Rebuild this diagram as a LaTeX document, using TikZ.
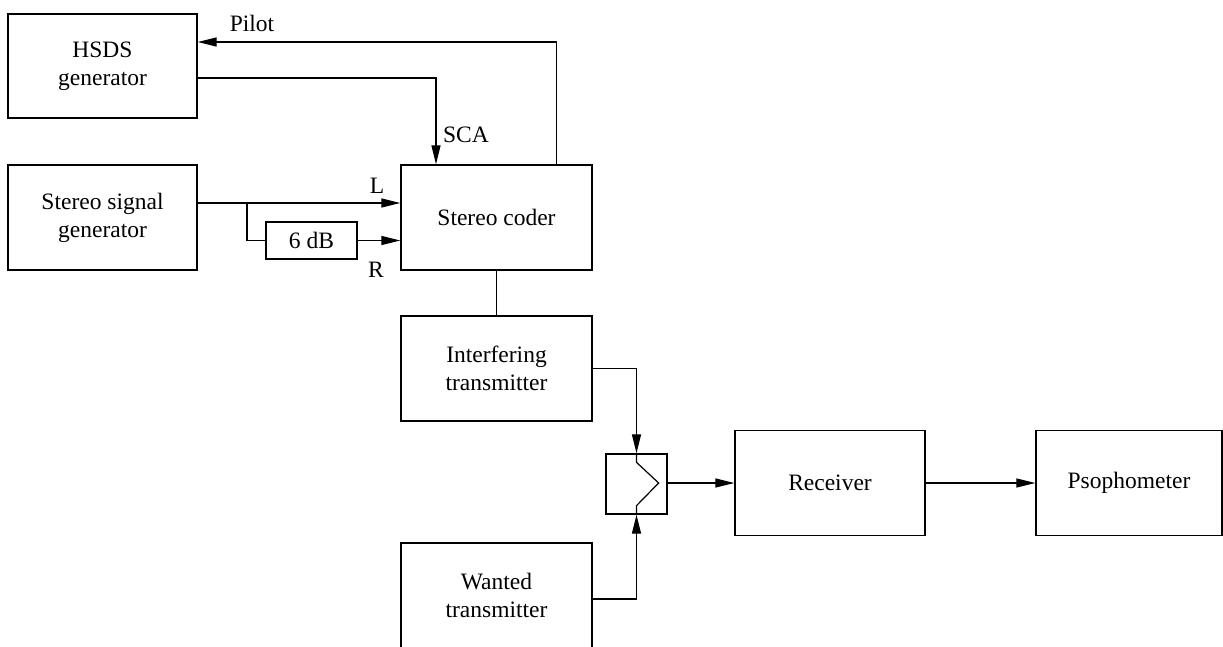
\documentclass[tikz,border=0pt]{standalone}
\usepackage{fontspec}
\setmainfont{Liberation Serif}
\usetikzlibrary{arrows.meta,calc}
\begin{document}
\begin{tikzpicture}[x=1pt,y=-1pt,
  every node/.style={font=\fontsize{23.5}{28}\selectfont},
  block/.style={draw,line width=1.3pt,align=center,inner sep=0pt,
                minimum width=191pt,minimum height=105pt},
  wire/.style={line width=1.2pt},
  arr/.style={wire,-{Triangle[length=19pt,width=9pt]}},
  lbl/.style={inner sep=0pt}]
\useasboundingbox (0,0) rectangle (1223,646);
\clip (0,0) rectangle (1223,646);

% blocks
\node[block,minimum width=189pt,minimum height=104pt] (hsds) at (102.5,66) {HSDS\\generator};
\node[block,minimum width=189pt] (ssg) at (102.5,217.5) {Stereo signal\\generator};
\node[block] (coder) at (496.5,217.5) {Stereo coder};
\node[block] (intf) at (496.5,368.5) {Interfering\\transmitter};
\node[block] (want) at (496.5,595.5) {Wanted\\transmitter};
\node[block,minimum width=190pt] (rec) at (830,483) {Receiver};
\node[block,minimum width=186pt] (pso) at (1129,483) {Psophometer};
\node[draw,line width=1.3pt,inner sep=0pt,
      minimum width=91pt,minimum height=37pt] (db) at (311.5,240.5) {6 dB};
\node[draw,line width=1.3pt,minimum width=61pt,minimum height=60pt,inner sep=0pt] (comb) at (636.5,484) {};

% switch symbol inside the combiner
\draw[wire] (comb.north) -- ($(comb.north)+(0,9)$) -- ($(comb.east)+(-9,-1)$)
            -- ($(comb.south)+(0,-9)$) -- (comb.south);

% pilot and SCA paths
\coordinate (pilotsrc) at ($(coder.north east)+(-36,0)$);
\draw[arr] (pilotsrc) |- (hsds.east |- 0,42);
\coordinate (scadst) at ($(coder.north)+(-60.5,0)$);
\draw[arr] (hsds.east |- 0,78) -| (scadst);

% L and R feeds
\coordinate (split) at (247,203);
\draw[arr] (ssg.east |- split) -- (coder.west |- split);
\draw[wire] (split) |- (db.west);
\draw[arr] (db.east) -- (coder.west |- db.east);

% coder to interfering transmitter
\draw[wire] (coder.south) -- (intf.north);

% transmitters into combiner
\draw[arr] (intf.east) -| (comb.north);
\draw[arr] (want.east |- 0,599) -| (comb.south);

% combiner to receiver to psophometer
\draw[arr] ($(comb.east)+(0,-1)$) -- (rec.west |- 0,483);
\draw[arr] (rec.east) -- (pso.west);

% labels
\node[lbl] (pilot) at (252,23) {Pilot};
\node[lbl] (sca) at (466,135) {SCA};
\node[lbl] (l) at (377,186) {L};
\node[lbl] (r) at (376,270) {R};
\end{tikzpicture}
\end{document}
